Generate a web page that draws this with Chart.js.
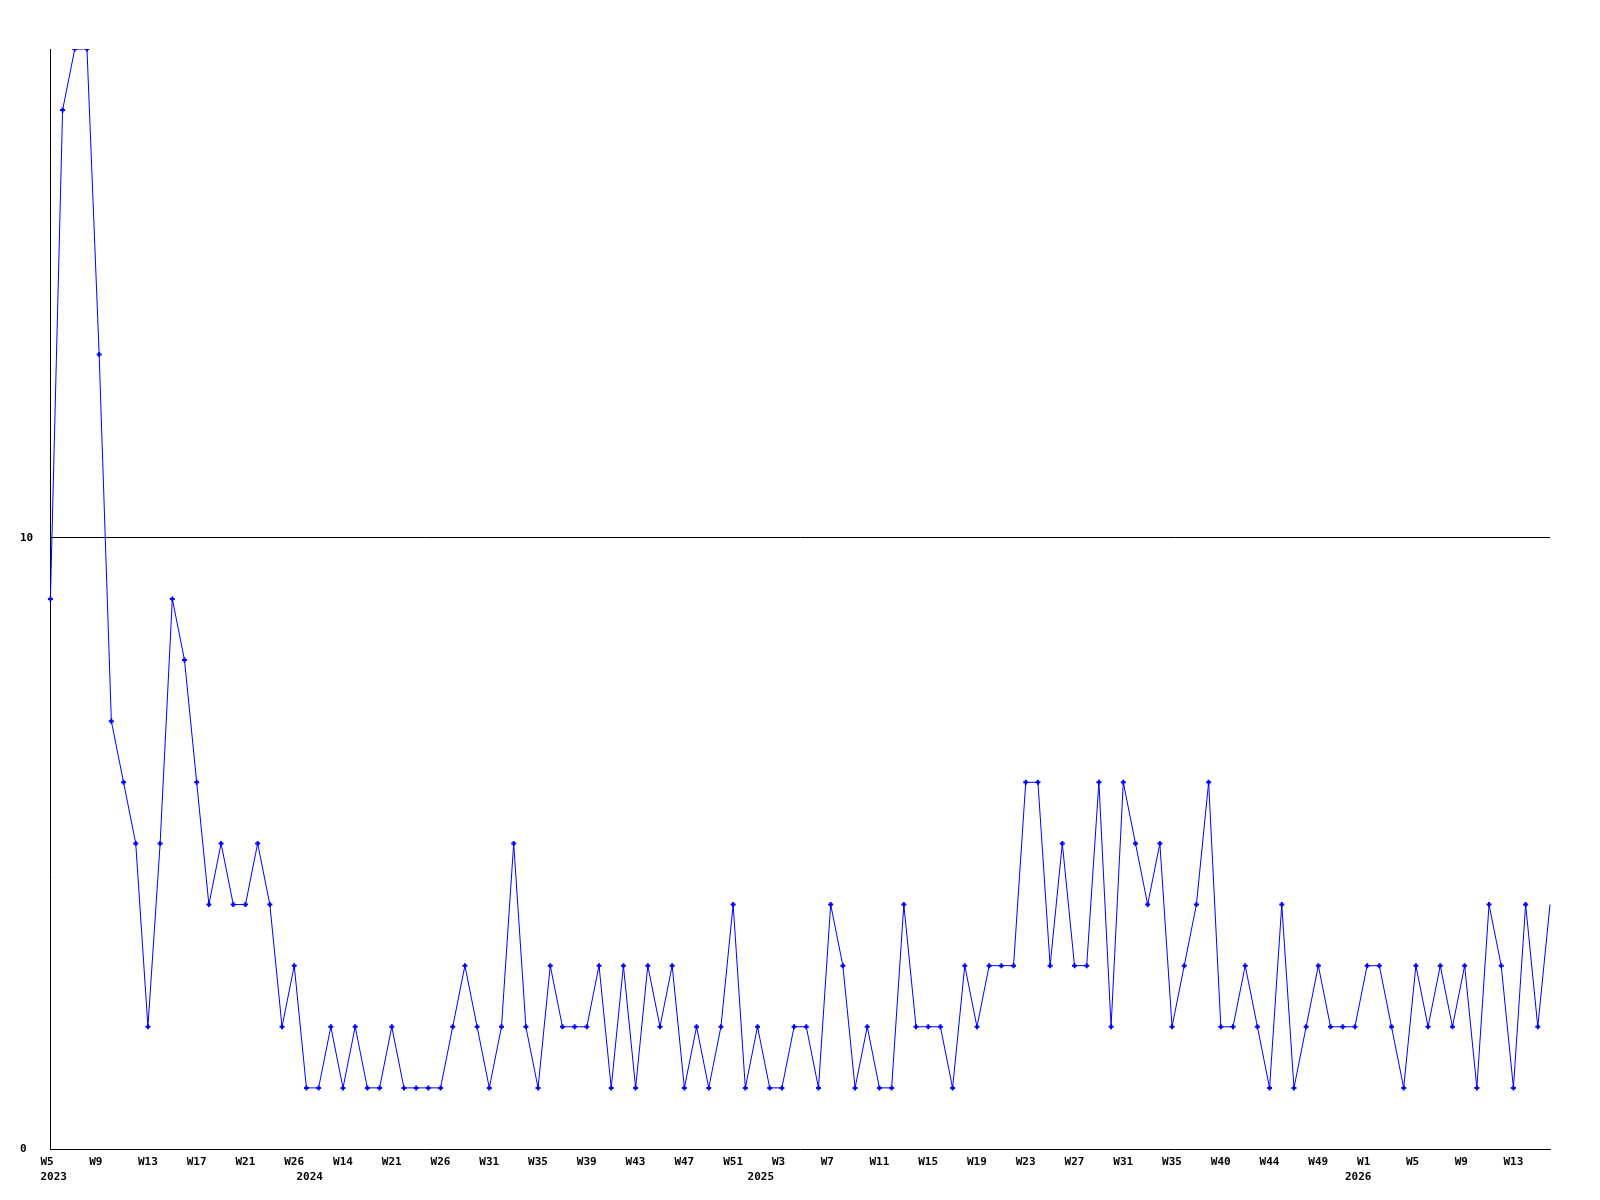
<!DOCTYPE html>
<html>
<head>
<meta charset="utf-8">
<script src="https://cdn.jsdelivr.net/npm/chart.js@4/dist/chart.umd.min.js"></script>
<style>
  body { margin: 0; background: #fff; }
  canvas { display: block; }
</style>
</head>
<body>
<canvas id="weeklyChart" width="1600" height="1200"></canvas>
<script>
// week numbers per year, in the order the points appear
const weeks2023 = [5, 6, 7, 8, 9, 10, 11, 12, 13, 14, 15, 16, 17, 18, 19, 20, 21, 22, 23, 25, 26];
const weeks2024 = [11, 12, 13, 14, 15, 17, 19, 21, 22, 23, 25, 26, 27, 28, 30, 31, 32, 33, 34,
    35, 36, 37, 38, 39, 40, 41, 42, 43, 44, 45, 46, 47, 48, 49, 50, 51, 52];
const weeks2025 = [1, 2, 3, 4, 5, 6, 7, 8, 9, 10, 11, 12, 13, 14, 15, 16, 17, 18, 19, 20, 21, 22,
    23, 24, 25, 26, 27, 28, 29, 30, 31, 32, 33, 34, 35, 36, 37, 38, 40, 41, 42, 43, 44, 45, 46, 48,
    49, 50, 51];
const weeks2026 = [0, 1, 2, 3, 4, 5, 6, 7, 8, 9, 10, 11, 12, 13, 14, 15, 16];

const counts = [
    9, 17, 18, 18, 13, 7, 6, 5, 2, 5,
    9, 8, 6, 4, 5, 4, 4, 5, 4, 2,
    3, 1, 1, 2, 1, 2, 1, 1, 2, 1,
    1, 1, 1, 2, 3, 2, 1, 2, 5, 2,
    1, 3, 2, 2, 2, 3, 1, 3, 1, 3,
    2, 3, 1, 2, 1, 2, 4, 1, 2, 1,
    1, 2, 2, 1, 4, 3, 1, 2, 1, 1,
    4, 2, 2, 2, 1, 3, 2, 3, 3, 3,
    6, 6, 3, 5, 3, 3, 6, 2, 6, 5,
    4, 5, 2, 3, 4, 6, 2, 2, 3, 2,
    1, 4, 1, 2, 3, 2, 2, 2, 3, 3,
    2, 1, 3, 2, 3, 2, 3, 1, 4, 3,
    1, 4, 2, 4
];

const yTicks = [0, 10];

const weekLabels = [];
const yearOf = [];
[[2023, weeks2023], [2024, weeks2024], [2025, weeks2025], [2026, weeks2026]].forEach(([y, ws]) => {
    ws.forEach(w => { weekLabels.push('W' + w); yearOf.push(y); });
});

const font = { family: 'DejaVu Sans Mono', size: 11, weight: 'bold', lineHeight: 1.32 };

new Chart(document.getElementById('weeklyChart').getContext('2d'), {
    type: 'line',
    data: {
        labels: weekLabels,
        datasets: [{
            data: counts,
            borderColor: '#0000ff',
            backgroundColor: '#0000ff',
            borderWidth: 1,
            tension: 0,
            pointStyle: 'cross',
            pointRadius: ctx => ctx.dataIndex === counts.length - 1 ? 0 : 2.5,
            pointBorderWidth: 2
        }]
    },
    options: {
        responsive: false,
        animation: false,
        layout: { padding: { left: 20, top: 49, right: 50, bottom: 0 } },
        plugins: { legend: { display: false }, tooltip: { enabled: false } },
        scales: {
            x: {
                offset: false,
                grid: { display: false, drawTicks: false },
                border: { color: '#000', width: 1 },
                ticks: {
                    autoSkip: false,
                    maxRotation: 0,
                    minRotation: 0,
                    align: 'start',
                    labelOffset: -10,
                    padding: 6,
                    color: '#000',
                    font: font,
                    callback: function (value, index) {
                        const week = index % 4 === 0 ? weekLabels[index] : '';
                        if (index === 0 || yearOf[index] !== yearOf[index - 1]) {
                            return [week, String(yearOf[index])];
                        }
                        return week;
                    }
                },
                afterFit: scale => { scale.height = 51; }
            },
            y: {
                min: 0,
                max: 18,
                afterBuildTicks: scale => { scale.ticks = yTicks.map(v => ({ value: v })); },
                grid: {
                    drawTicks: false,
                    color: ctx => (ctx.tick && ctx.tick.value === 10) ? '#000' : 'rgba(0,0,0,0)'
                },
                border: { color: '#000', width: 1 },
                ticks: {
                    crossAlign: 'far',
                    color: '#000',
                    font: font
                },
                afterFit: scale => { scale.width = 30.4; }
            }
        }
    }
});
</script>
</body>
</html>
